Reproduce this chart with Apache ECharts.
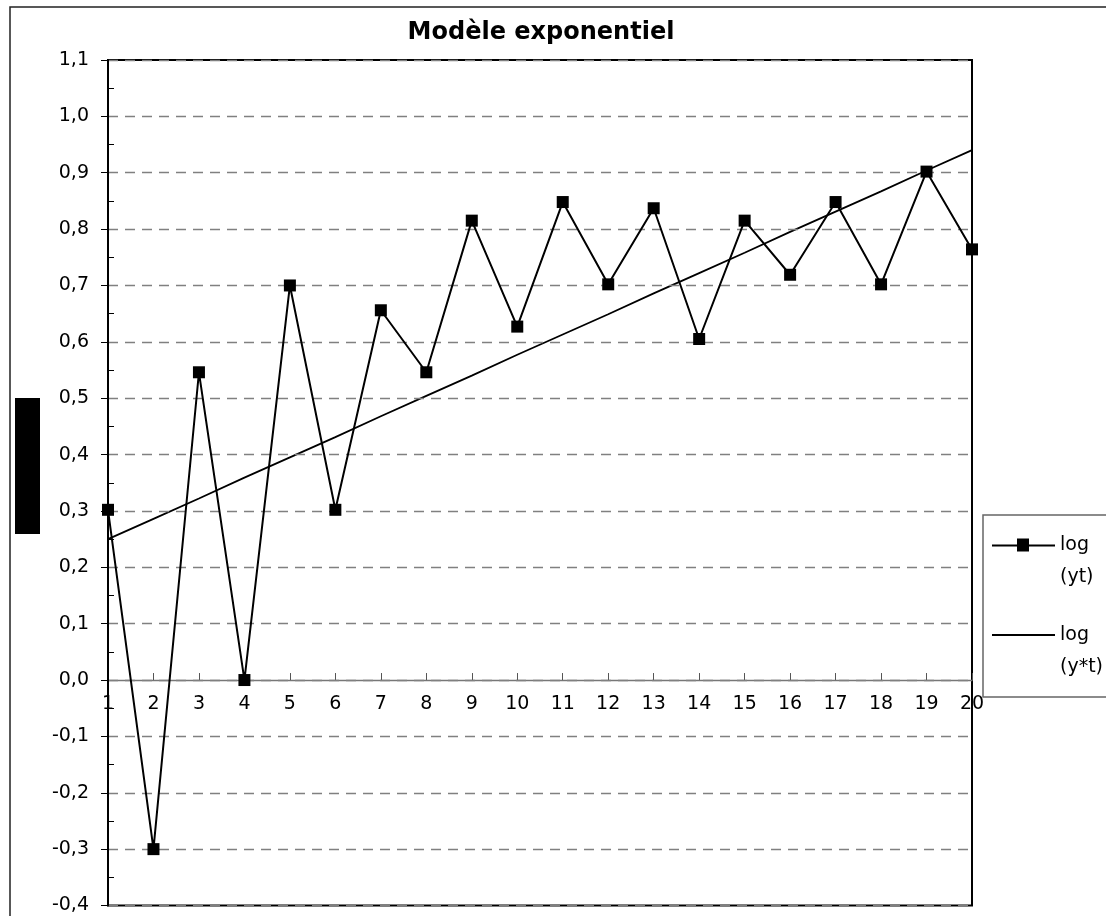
<!DOCTYPE html>
<html>
<head>
<meta charset="utf-8">
<script src="https://cdn.jsdelivr.net/npm/echarts@6/dist/echarts.min.js"></script>
<style>
html,body{margin:0;padding:0;background:#fff;}
#c{width:1106px;height:916px;}
</style>
</head>
<body>
<div id="c"></div>
<script>
const categories = ['1','2','3','4','5','6','7','8','9','10','11','12','13','14','15','16','17','18','19','20'];
const logYt = [0.302, -0.300, 0.546, 0.000, 0.700, 0.302, 0.656, 0.546, 0.815, 0.627, 0.848, 0.702, 0.837, 0.605, 0.815, 0.719, 0.848, 0.702, 0.902, 0.764];
const logYStar = [0.250, 0.286, 0.322, 0.359, 0.395, 0.431, 0.468, 0.504, 0.540, 0.577, 0.613, 0.649, 0.686, 0.722, 0.758, 0.795, 0.831, 0.867, 0.904, 0.940];
const seriesNames = ['log (yt)', 'log (y*t)'];
const yTickValues = [-0.4, 1.1, 0.1];
const yMinorStep = 0.05;
const titleText = 'Modèle exponentiel';

const chart = echarts.init(document.getElementById('c'), null, {renderer: 'canvas'});
const FONT = 'DejaVu Sans, Liberation Sans, Arial, sans-serif';
const GRID_TOP = 60, GRID_H = 845.5;
const zeroOffset = -GRID_H * (0 - yTickValues[0]) / (yTickValues[1] - yTickValues[0]);

const legendCommon = {
  orient: 'vertical',
  left: 992,
  padding: 0,
  itemWidth: 63, itemHeight: 14,
  itemGap: 0,
  formatter: n => ' \n' + n.replace(' ', '\n'),
  textStyle: {fontFamily: FONT, fontSize: 19, color: '#000', lineHeight: 32, padding: [0, 0, 0, 0]}
};

chart.setOption({
  animation: false,
  backgroundColor: '#fff',
  title: {
    text: titleText,
    left: 536, top: 16, textAlign: 'center',
    textStyle: {fontFamily: FONT, fontSize: 24, fontWeight: 'bold', color: '#000'}
  },
  grid: {
    left: 108, top: GRID_TOP, width: 864, height: GRID_H,
    outerBoundsMode: 'none',
    show: true, borderColor: '#000', borderWidth: 2, backgroundColor: 'transparent'
  },
  legend: [
    Object.assign({}, legendCommon, {
      top: 497,
      data: [{name: seriesNames[0], icon: 'path://M0,6L25,6L25,0L37,0L37,6L63,6L63,8L37,8L37,13L25,13L25,8L0,8Z'}]
    }),
    Object.assign({}, legendCommon, {
      top: 587,
      data: [{name: seriesNames[1], icon: 'path://M0,6L63,6L63,8L0,8Z'}]
    })
  ],
  xAxis: {
    type: 'category',
    data: categories,
    boundaryGap: false,
    position: 'bottom',
    offset: zeroOffset,
    axisLine: {onZero: false, lineStyle: {color: '#777', width: 1.3}},
    axisTick: {show: true, inside: true, length: 7, lineStyle: {color: '#555'}},
    axisLabel: {fontFamily: FONT, fontSize: 19, color: '#000', margin: 15, interval: 0},
    splitLine: {show: false}
  },
  yAxis: [
    {
      type: 'value',
      min: yTickValues[0], max: yTickValues[1], interval: yTickValues[2],
      axisLine: {show: true, lineStyle: {color: '#000', width: 2}},
      axisTick: {show: true, inside: false, length: 7, lineStyle: {color: '#000'}},
      axisLabel: {
        fontFamily: FONT, fontSize: 19, color: '#000', margin: 19,
        formatter: v => v.toFixed(1).replace('.', ',')
      },
      splitLine: {show: true, lineStyle: {color: '#808080', type: [10, 7], width: 1.3}},
      z: 3
    },
    {
      type: 'value',
      position: 'left',
      min: yTickValues[0], max: yTickValues[1], interval: yMinorStep,
      axisLine: {show: false},
      axisTick: {show: true, inside: true, length: 6, lineStyle: {color: '#000'}},
      axisLabel: {show: false},
      splitLine: {show: false}
    }
  ],
  series: [
    {
      name: seriesNames[0], type: 'line', data: logYt,
      symbol: 'rect', symbolSize: 12,
      itemStyle: {color: '#000'},
      lineStyle: {color: '#000', width: 2},
      z: 3
    },
    {
      name: seriesNames[1], type: 'line', data: logYStar,
      symbol: 'none',
      lineStyle: {color: '#000', width: 1.8},
      itemStyle: {color: '#000'},
      z: 2
    }
  ],
  graphic: [
    {type: 'rect', shape: {x: 10, y: 7, width: 1200, height: 1000}, style: {fill: 'none', stroke: '#222', lineWidth: 1.5}, silent: true, z: -1},
    {type: 'rect', shape: {x: 983, y: 515, width: 200, height: 182}, style: {fill: 'none', stroke: '#666', lineWidth: 1.5}, silent: true, z: -1},
    {type: 'rect', shape: {x: 15, y: 398, width: 25, height: 136}, style: {fill: '#000'}, silent: true}
  ]
});
</script>
</body>
</html>
